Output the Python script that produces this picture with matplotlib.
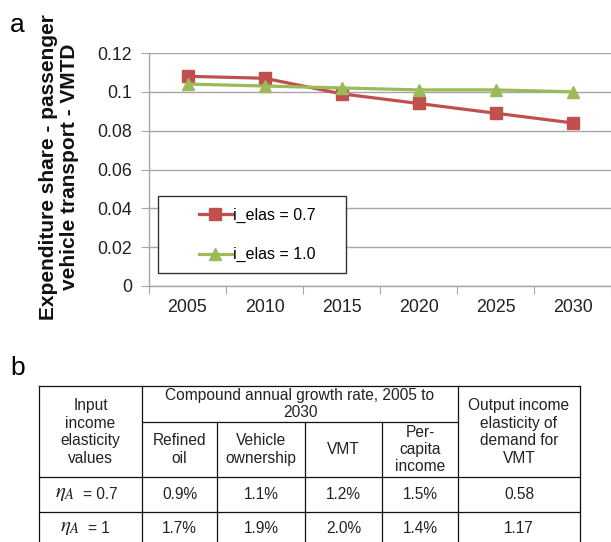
import matplotlib
matplotlib.use("Agg")
import matplotlib.pyplot as plt
from matplotlib.lines import Line2D
from matplotlib.patches import Rectangle

plt.rcParams['font.family'] = ['Liberation Sans', 'DejaVu Sans']
plt.rcParams['mathtext.fontset'] = 'stix'

# ---- data ----
years = ["2005", "2010", "2015", "2020", "2025", "2030"]
share_07 = [0.108, 0.107, 0.099, 0.094, 0.089, 0.084]
share_10 = [0.104, 0.103, 0.102, 0.101, 0.101, 0.100]
series_labels = ["i_elas = 0.7", "i_elas = 1.0"]
yticks = [0, 0.02, 0.04, 0.06, 0.08, 0.1, 0.12]
ytick_labels = ["0", "0.02", "0.04", "0.06", "0.08", "0.1", "0.12"]
ylabel = "Expenditure share - passenger\nvehicle transport - VMTD"

col_header_top = "Compound annual growth rate, 2005 to\n2030"
col0_header = "Input\nincome\nelasticity\nvalues"
sub_headers = ["Refined\noil", "Vehicle\nownership", "VMT", "Per-\ncapita\nincome"]
last_header = "Output income\nelasticity of\ndemand for\nVMT"
row_symbol = r"$\eta_A$"
row_rhs = ["= 0.7", "= 1"]
row_values = [["0.9%", "1.1%", "1.2%", "1.5%", "0.58"],
              ["1.7%", "1.9%", "2.0%", "1.4%", "1.17"]]

W, H = 611, 542
fig = plt.figure(figsize=(W / 100, H / 100), dpi=100)

def fx(x):
    return x / W

def fy(y):
    return 1 - y / H

RED = "#C0504D"
GREEN = "#9BBB59"
GRID = "#A6A6A6"

# ---- panel a ----
ax_l, ax_r, ax_t, ax_b = 149, 611, 53, 286
ax = fig.add_axes([fx(ax_l), fy(ax_b), fx(ax_r) - fx(ax_l), fy(ax_t) - fy(ax_b)])
x = list(range(len(years)))
ax.plot(x, share_07, color=RED, lw=2.3, marker="s", ms=8.5, label=series_labels[0], zorder=3)
ax.plot(x, share_10, color=GREEN, lw=2.3, marker="^", ms=9, label=series_labels[1], zorder=4)
ax.set_xlim(-0.5, len(years) - 0.5)
ax.set_ylim(0, 0.12)
ax.set_yticks(yticks)
ax.set_yticklabels(ytick_labels, fontsize=12.8, color="#222222")
ax.yaxis.grid(True, color=GRID, lw=1.0)
ax.set_axisbelow(True)
ax.set_xticks([i - 0.5 for i in range(len(years) + 1)])
ax.set_xticklabels([])
ax.set_xticks(x, minor=True)
ax.set_xticklabels(years, minor=True, fontsize=12.8, color="#222222")
ax.tick_params(axis="x", which="major", length=6, color=GRID, direction="out")
ax.tick_params(axis="x", which="minor", length=0, pad=9)
ax.tick_params(axis="y", length=6, color=GRID, pad=6)
for s in ["top", "right"]:
    ax.spines[s].set_visible(False)
for s in ["left", "bottom"]:
    ax.spines[s].set_color(GRID)
    ax.spines[s].set_linewidth(1.0)

fig.text(fx(59), fy(167), ylabel, rotation=90, ha="center", va="center",
         fontsize=15, fontweight="bold", linespacing=1.15, color="#111111")

# legend frame + legend
lg_l, lg_r, lg_t, lg_b = 158, 346, 196, 273
ax.add_patch(Rectangle((fx(lg_l), fy(lg_b)), fx(lg_r) - fx(lg_l), fy(lg_t) - fy(lg_b),
                       transform=fig.transFigure, fill=True, facecolor="white",
                       edgecolor="#333333", lw=1.0, zorder=5, clip_on=False))
leg = ax.legend(loc="upper left", bbox_to_anchor=(fx(199), fy(208)), bbox_transform=fig.transFigure,
                frameon=False, fontsize=11.5, handlelength=2.05, handletextpad=0.1,
                labelspacing=1.5, borderpad=0, borderaxespad=0)
leg.set_zorder(6)

fig.text(fx(10), fy(25), "a", fontsize=19, ha="left", va="center")
fig.text(fx(10), fy(368), "b", fontsize=19, ha="left", va="center")

# ---- panel b: table ----
tl, tr, t_top = 39, 580, 386
t_sub = 422
t_hdr = 477
t_r1 = 512
t_bot = 547
cols = [39, 142, 217, 305, 382, 458, 580]
lc = "#111111"
lw = 0.9

def hline(y, x0, x1):
    fig.add_artist(Line2D([fx(x0), fx(x1)], [fy(y), fy(y)], color=lc, lw=lw))

def vline(x, y0, y1):
    fig.add_artist(Line2D([fx(x), fx(x)], [fy(y0), fy(y1)], color=lc, lw=lw))

hline(t_top, tl, tr)
hline(t_sub, cols[1], cols[5])
hline(t_hdr, tl, tr)
hline(t_r1, tl, tr)
for c in [cols[0], cols[1], cols[5], cols[6]]:
    vline(c, t_top, t_bot)
for c in cols[2:5]:
    vline(c, t_sub, t_bot)

tfs = 11.2
tcol = "#222222"

def ctext(x, y, s, ls=1.2):
    fig.text(fx(x), fy(y), s, ha="center", va="center", fontsize=tfs, color=tcol,
             linespacing=ls)

ctext((cols[0] + cols[1]) / 2, 432, col0_header)
ctext((cols[1] + cols[5]) / 2, 404, col_header_top, ls=1.1)
for i, s in enumerate(sub_headers):
    ctext((cols[1 + i] + cols[2 + i]) / 2, (t_sub + t_hdr) / 2, s)
ctext((cols[5] + cols[6]) / 2, 432, last_header)

row_centers = [(t_hdr + t_r1) / 2, (t_r1 + t_bot) / 2 - 1]
sym_x = [55, 60]
rhs_x = [83, 88]
for r, yc in enumerate(row_centers):
    fig.text(fx(sym_x[r]), fy(yc - 1), row_symbol, ha="left", va="center", fontsize=15, color=tcol)
    fig.text(fx(rhs_x[r]), fy(yc), row_rhs[r], ha="left", va="center", fontsize=tfs, color=tcol)
    for j, v in enumerate(row_values[r]):
        ctext((cols[1 + j] + cols[2 + j]) / 2, yc, v)

fig.savefig("out.png", dpi=100)
